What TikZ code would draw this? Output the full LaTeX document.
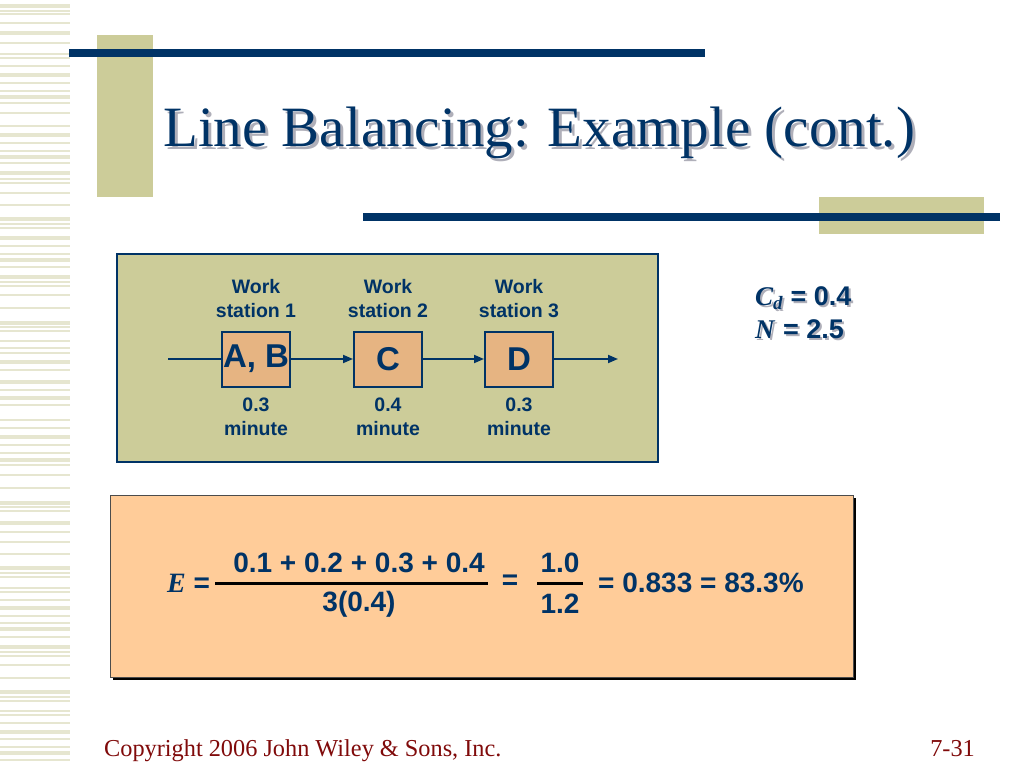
\documentclass[tikz,border=0pt]{standalone}
\usepackage{fontspec}
\setmainfont{Liberation Serif}
\setsansfont{Liberation Sans}
\usetikzlibrary{arrows.meta,positioning}
\definecolor{navy}{RGB}{0,51,102}
\definecolor{khaki}{RGB}{204,204,153}
\definecolor{stripe}{RGB}{230,230,208}
\definecolor{tan}{RGB}{230,180,130}
\definecolor{peach}{RGB}{255,204,153}
\definecolor{maroon}{RGB}{128,10,10}
\definecolor{shade}{RGB}{175,175,185}
\newcommand{\fsize}[2]{\fontsize{#1}{#2}\selectfont}
\newcommand{\shadowed}[2]{\makebox[0pt][l]{\hspace{#1}\raisebox{-#1}{\textcolor{shade}{#2}}}#2}
\begin{document}
\begin{tikzpicture}[x=1pt,y=-1pt,
  station/.style={draw=navy,line width=2pt,fill=tan,minimum width=68pt,minimum height=55pt,
    inner sep=0pt,text=navy,font=\sffamily\bfseries\fsize{33}{33}},
  lbl/.style={align=center,text=navy,font=\sffamily\bfseries\fsize{19.5}{24}},
  flow/.style={draw=navy,line width=1.8pt},
  tip/.style={-{Triangle[length=10pt,width=8pt]}},
  eq/.style={text=navy,inner sep=0pt,font=\sffamily\bfseries\fsize{28}{28}}]
  \useasboundingbox (0,0) rectangle (1024,767);
  \fill[white] (0,0) rectangle (1024,767);
  % side stripes
  \foreach \y in {6,33,75,97,135,157,173,219,238,260,277,323,362,382,398,437,460,503,523,568,608,629,647,692,732,753}
    \fill[stripe] (0,\y-2.2) rectangle (70,\y+2.2);
  \foreach \y in {11,14,23,43,54,58,66,83,91,103,113,126,143,151,163,179,183,193,205,224,228,246,254,267,282,286,295,308,327,331,341,348,353,370,390,405,420,428,445,453,465,475,488,507,511,532,542,554,573,577,588,592,600,616,623,637,652,656,665,678,697,701,711,715,723,739,747,760}
    \fill[stripe] (0,\y-0.8) rectangle (70,\y+0.8);
  % title bars
  \fill[khaki] (97,35) rectangle (153,197);
  \fill[navy] (69,49) rectangle (705,57);
  \fill[khaki] (819,197) rectangle (984,234);
  \fill[navy] (363,213) rectangle (1000,221);
  \node[anchor=base west,inner sep=0pt,text=navy,font=\fsize{57}{57}] (title) at (163,147) {\shadowed{3pt}{Line Balancing: Example (cont.)}};
  % line diagram
  \draw[navy,line width=2.5pt,fill=khaki] (117,254) rectangle (658,462);
  \node[station] (ab) at (256,359) {A, B};
  \node[station] (c) at (388,359) {C};
  \node[station] (d) at (519,359) {D};
  \node[lbl] (ab top) at (256,299) {Work\\station 1};
  \node[lbl] (c top) at (388,299) {Work\\station 2};
  \node[lbl] (d top) at (519,299) {Work\\station 3};
  \node[lbl] (ab time) at (256,417) {0.3\\minute};
  \node[lbl] (c time) at (388,417) {0.4\\minute};
  \node[lbl] (d time) at (519,417) {0.3\\minute};
  \coordinate (in) at (168,359);
  \coordinate (out) at (618,359);
  \draw[flow] (in) -- (ab);
  \draw[flow,tip] (ab) -- (c);
  \draw[flow,tip] (c) -- (d);
  \draw[flow,tip] (d) -- (out);
  % given values
  \node[eq,anchor=base west,font=\sffamily\bfseries\fsize{27}{27}] (cd) at (755,305) {\shadowed{2pt}{\textit{\rmfamily C\textsubscript{d}} = 0.4}};
  \node[eq,anchor=base west,font=\sffamily\bfseries\fsize{27}{27}] (n) at (755,338) {\shadowed{2pt}{\textit{\rmfamily N} = 2.5}};
  % efficiency
  \fill[black] (113,498) rectangle (856,680);
  \draw[black!70,line width=1pt,fill=peach] (110,495) rectangle (853,677);
  \node[eq,anchor=base west] (e) at (167,592) {\textit{\rmfamily E} =};
  \node[eq] (num) at (359,563) {0.1 + 0.2 + 0.3 + 0.4};
  \node[eq] (den) at (359,604) {3(0.4)};
  \draw[black,line width=3pt] (215,583) -- (488,583);
  \node[eq] (eq2) at (510,582) {=};
  \node[eq] (num2) at (560,563) {1.0};
  \node[eq] (den2) at (560,604) {1.2};
  \draw[black,line width=3pt] (537,583) -- (583,583);
  \node[eq,anchor=base west] (res) at (598,592) {= 0.833 = 83.3\%};
  % footer
  \node[anchor=base west,inner sep=0pt,text=maroon,font=\fsize{24.3}{24}] (copy) at (104,756) {Copyright 2006 John Wiley \& Sons, Inc.};
  \node[anchor=base east,inner sep=0pt,text=maroon,font=\fsize{24.3}{24}] (page) at (975,756) {7-31};
\end{tikzpicture}
\end{document}
